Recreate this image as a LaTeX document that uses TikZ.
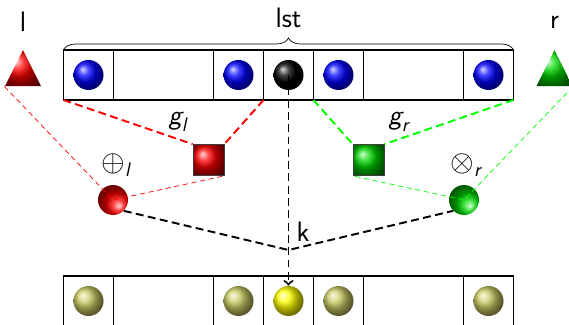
\documentclass[tikz,border=0pt]{standalone}
\usepackage{amsmath}
\usetikzlibrary{shapes.geometric,arrows,positioning,decorations.pathreplacing,calc}

\begin{document}
\begin{tikzpicture}[
    font=\sffamily\fontsize{16}{19}\selectfont,
    node distance=0pt,
    cell/.style={rectangle, draw, semithick, minimum height=1cm, minimum width=1cm, inner sep=0pt, outer sep=0pt},
    wide/.style={cell, minimum width=2cm},
    item/.style={circle, inner sep=0pt, minimum size=0.6cm, shading=ball},
    op/.style={item, shading angle=180},
    fn/.style={rectangle, draw=black!75, minimum size=0.62cm, inner sep=0pt, shading=ball},
    tri/.style={isosceles triangle, shape border rotate=90, isosceles triangle stretches, minimum width=0.72cm, minimum height=0.72cm, inner sep=0pt, shading=ball},
    link/.style={dash pattern=on 4.5pt off 2.5pt, line width=1.1pt},
    thinlink/.style={dash pattern=on 3pt off 2pt, thin},
    faded/.style={item, ball color=olive!40}
]
    \useasboundingbox (0,0) rectangle (11.38,-6.5);

    % input list
    \node[cell] (t1) at (1.77,-1.5) {};
    \node[wide, right=of t1] (t2) {};
    \node[cell, right=of t2] (t3) {};
    \node[cell, right=of t3] (t4) {};
    \node[cell, right=of t4] (t5) {};
    \node[wide, right=of t5] (t6) {};
    \node[cell, right=of t6] (t7) {};
    \node[item, ball color=blue] (tb1) at (t1) {};
    \node[item, ball color=blue] (tb3) at (t3) {};
    \node[item, ball color=black] (tb4) at (t4) {};
    \node[item, ball color=blue] (tb5) at (t5) {};
    \node[item, ball color=blue] (tb7) at (t7) {};

    \draw[decorate, decoration={brace, amplitude=0.24cm}] (t1.north west) -- (t7.north east);
    \node (lst) at (5.77,-0.36) {lst};

    % output list
    \node[cell] (b1) at (1.77,-6.02) {};
    \node[wide, right=of b1] (b2) {};
    \node[cell, right=of b2] (b3) {};
    \node[cell, right=of b3] (b4) {};
    \node[cell, right=of b4] (b5) {};
    \node[wide, right=of b5] (b6) {};
    \node[cell, right=of b6] (b7) {};
    \node[faded] (bb1) at (b1) {};
    \node[faded] (bb3) at (b3) {};
    \node[item, ball color=yellow] (bb4) at (b4) {};
    \node[faded] (bb5) at (b5) {};
    \node[faded] (bb7) at (b7) {};

    % left and right neighbours
    \node[tri, ball color=red] (ltri) at (0.46,-1.5) {};
    \node[tri, ball color=green!85!black] (rtri) at (11.09,-1.5) {};
    \node (lname) at (0.46,-0.44) {l};
    \node (rname) at (11.09,-0.44) {r};

    \node[fn, ball color=red] (gl) at (4.17,-3.2) {};
    \node[fn, ball color=green!85!black] (gr) at (7.37,-3.2) {};
    \node (gllabel) at (3.56,-2.44) {$\textit{g}_{\textit{l}}$};
    \node (grlabel) at (7.98,-2.44) {$\textit{g}_{\textit{r}}$};

    \node[op, ball color=red] (opl) at (2.26,-4) {};
    \node[op, ball color=green!85!black] (opr) at (9.28,-4) {};
    \node (opllabel) at (2.32,-3.3) {$\oplus_{\textit{l}}$};
    \node (oprlabel) at (9.32,-3.3) {$\otimes_{\textit{r}}$};

    \coordinate (meet) at (5.77,-5.0);

    \draw[link, red] (t1.south west) -- (gl.north west);
    \draw[link, red] (t4.south west) -- (gl.north east);
    \draw[link, green] (t4.south east) -- (gr.north west);
    \draw[link, green] (t7.south east) -- (gr.north east);

    \draw[thinlink, red] (ltri.left corner) -- (opl.center) -- (gl.south east);
    \draw[thinlink, green] (rtri.right corner) -- (opr.center) -- (gr.south west);

    \draw[link] (opl.south east) -- (meet) -- (opr.south west);
    \draw[link, ->] (tb4.center) -- (bb4.north);
    \node (k) at (6.06,-4.64) {k};
\end{tikzpicture}
\end{document}
